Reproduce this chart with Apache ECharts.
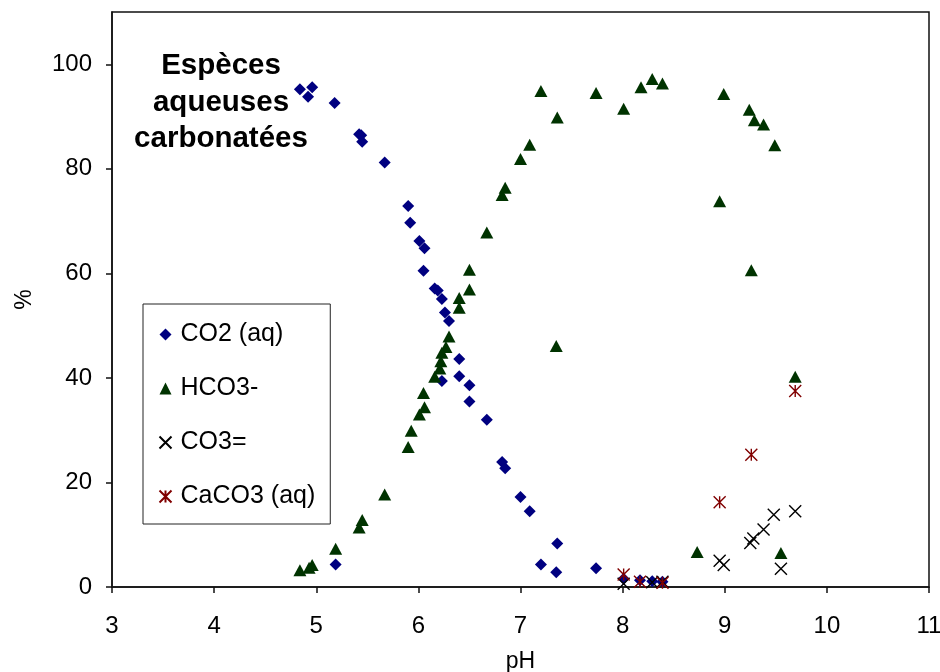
<!DOCTYPE html>
<html>
<head>
<meta charset="utf-8">
<title>Espèces aqueuses carbonatées</title>
<script src="https://cdn.jsdelivr.net/npm/echarts@6/dist/echarts.min.js"></script>
<style>
    body { margin: 0; background: #fff; }
    #chart { width: 940px; height: 672px; }
</style>
</head>
<body>
<div id="chart"></div>
<script>
// données [pH, %]
var co2Data = [
    [4.84, 95.2], [4.92, 93.8], [4.96, 95.6], [5.18, 92.6], [5.19, 4.3],
    [5.42, 86.6], [5.44, 86.4], [5.45, 85.2], [5.67, 81.2], [5.90, 72.9],
    [5.92, 69.7], [6.01, 66.2], [6.05, 60.5], [6.06, 64.8], [6.16, 57.1],
    [6.19, 56.7], [6.23, 55.1], [6.23, 39.4], [6.26, 52.5], [6.30, 50.9],
    [6.40, 43.6], [6.40, 40.3], [6.50, 38.6], [6.50, 35.5], [6.67, 32.0],
    [6.82, 23.9], [6.85, 22.7], [7.00, 17.2], [7.09, 14.5], [7.20, 4.3],
    [7.35, 2.8], [7.36, 8.3], [7.74, 3.6], [8.01, 1.6], [8.17, 1.3],
    [8.29, 1.1], [8.39, 1.0]
];
var hco3Data = [
    [4.84, 3.2], [4.93, 3.7], [4.96, 4.2], [5.19, 7.3], [5.42, 11.4],
    [5.45, 12.8], [5.67, 17.7], [5.90, 26.8], [5.93, 29.9], [6.01, 33.0],
    [6.05, 37.1], [6.06, 34.4], [6.16, 40.2], [6.21, 41.8], [6.22, 43.2],
    [6.23, 44.8], [6.27, 45.9], [6.30, 47.9], [6.40, 53.4], [6.40, 55.3],
    [6.50, 56.9], [6.50, 60.7], [6.67, 67.8], [6.82, 75.0], [6.85, 76.4],
    [7.00, 81.9], [7.09, 84.6], [7.20, 94.9], [7.35, 46.1], [7.36, 89.8],
    [7.74, 94.5], [8.01, 91.5], [8.18, 95.6], [8.29, 97.2], [8.39, 96.3],
    [8.73, 6.7], [8.95, 73.8], [8.99, 94.3], [9.24, 91.3], [9.26, 60.6],
    [9.29, 89.3], [9.38, 88.5], [9.49, 84.5], [9.55, 6.5], [9.69, 40.2]
];
var co3Data = [
    [8.01, 0.6], [8.29, 0.9], [8.39, 1.0], [8.95, 5.0], [8.99, 4.2],
    [9.25, 8.4], [9.28, 9.3], [9.38, 11.0], [9.48, 13.8], [9.55, 3.5],
    [9.69, 14.5]
];
var caco3Data = [
    [8.01, 2.4], [8.17, 1.0], [8.39, 0.8], [8.95, 16.2], [9.26, 25.3],
    [9.69, 37.5]
];
var yTicks = [0, 20, 40, 60, 80, 100];

var FONT = '"Liberation Sans", Arial, sans-serif';

function drawChart(obj){
    var myChart = echarts.init(obj);

    var option = {
        animation: false,
        textStyle: { fontFamily: FONT },
        grid: {
            left: 112, right: 11, top: 12, bottom: 85,
            outerBoundsMode: 'none',
            containLabel: false,
            show: true,
            borderColor: '#111',
            borderWidth: 1.5
        },
        // titre dans le graphique
        graphic: [{
            type: 'text',
            x: 221, y: 48,
            style: {
                text: 'Espèces\naqueuses\ncarbonatées',
                textAlign: 'center',
                font: 'bold 29.5px ' + FONT,
                lineHeight: 36.5,
                fill: '#000'
            }
        }],
        legend: {
            orient: 'vertical',
            left: 143, top: 304,
            padding: [18, 15, 15, 14],
            itemGap: 29,
            itemWidth: 12,
            itemHeight: 12,
            borderColor: '#222',
            borderWidth: 1,
            textStyle: { fontSize: 25, color: '#000', lineHeight: 22, padding: [0, 0, 0, 4] },
            data: ['CO2 (aq)', 'HCO3-', 'CO3=', 'CaCO3 (aq)']
        },
        xAxis: {
            type: 'value',
            min: 3, max: 11, interval: 1,
            name: 'pH',
            nameLocation: 'middle',
            nameGap: 63,
            nameTextStyle: { fontSize: 23, color: '#000' },
            axisLine: { lineStyle: { color: '#111', width: 1.5 } },
            axisTick: { inside: false, length: 6, lineStyle: { color: '#111', width: 1.5 } },
            axisLabel: { fontSize: 24, color: '#000', margin: 27 },
            splitLine: { show: false }
        },
        yAxis: {
            type: 'value',
            min: 0, max: 110,
            name: '%',
            nameLocation: 'middle',
            nameGap: 76,
            nameTextStyle: { fontSize: 23, color: '#000' },
            axisLine: { show: true, lineStyle: { color: '#111', width: 1.5 } },
            axisTick: { show: true, length: 6, customValues: yTicks, lineStyle: { color: '#111', width: 1.5 } },
            axisLabel: { fontSize: 24, color: '#000', margin: 20, customValues: yTicks },
            splitLine: { show: false }
        },
        series: [
            {
                name: 'CO2 (aq)',
                type: 'scatter',
                symbol: 'diamond',
                symbolSize: 12,
                itemStyle: { color: '#000080', opacity: 1 },
                data: co2Data
            },
            {
                name: 'HCO3-',
                type: 'scatter',
                symbol: 'triangle',
                symbolSize: [13, 12],
                itemStyle: { color: '#003300', opacity: 1 },
                data: hco3Data
            },
            {
                name: 'CO3=',
                type: 'scatter',
                symbol: 'path://M0,0L10,10M10,0L0,10',
                symbolSize: 12,
                itemStyle: { color: 'none', borderColor: '#000', borderWidth: 1.4, opacity: 1 },
                data: co3Data
            },
            {
                name: 'CaCO3 (aq)',
                type: 'scatter',
                symbol: 'path://M0,0L10,10M10,0L0,10M5,0L5,10',
                symbolSize: 12,
                itemStyle: { color: 'none', borderColor: '#800000', borderWidth: 1.4, opacity: 1 },
                data: caco3Data
            }
        ]
    };

    myChart.setOption(option);
}

drawChart(document.getElementById('chart'));
</script>
</body>
</html>
